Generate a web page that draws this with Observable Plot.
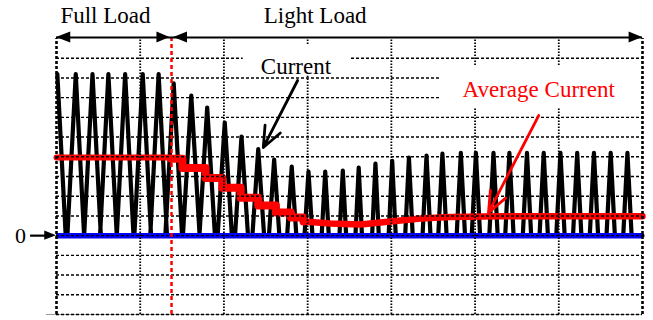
<!DOCTYPE html>
<html><head><meta charset="utf-8">
<script src="https://cdn.jsdelivr.net/npm/d3@7"></script>
<script src="https://cdn.jsdelivr.net/npm/@observablehq/plot@0.6"></script>
<style>body{margin:0;background:#fff}</style>
</head><body><div id="chart"></div>
<script>
// ---- Data, in oscilloscope divisions (x: time div, y: current div) ----
const peakT = [0.01,0.23,0.43,0.62,0.82,1.03,1.22,
  1.40,1.61,1.80,2.01,2.21,2.41,2.60,2.81,3.01,3.21,3.42,3.61,3.81,4.01,4.21,4.42,4.61,4.83,
  5.01,5.22,5.41,5.62,5.82,6.02,6.22,6.42,6.62,6.82];
const peakI = [8.2,8.2,8.2,8.2,8.2,8.2,8.2,
  7.72,7.1,6.5,5.74,5.03,4.39,3.86,3.5,3.25,3.25,3.3,3.45,3.65,3.8,3.96,4.06,4.16,4.2,
  4.2,4.2,4.2,4.2,4.2,4.2,4.2,4.2,4.2,4.2];
const pulseW = [0.2,0.2,0.2,0.2,0.2,0.2,0.2,
  0.2,0.2,0.185,0.17,0.155,0.14,0.125,0.11,0.095,0.085,0.08,0.078,0.08,0.085,0.09,0.095,0.1,0.1,
  0.1,0.1,0.1,0.1,0.1,0.1,0.1,0.1,0.1,0.1];
const avgStepT = [0, 1.37, 1.505, 1.78, 1.98, 2.20, 2.41, 2.62, 2.80, 2.95];
const avgStepI = [3.97, 3.9, 3.43, 2.93, 2.43, 1.92, 1.53, 1.18, 0.92, 0.72];
const avgTailT = [2.95, 3.27, 3.63, 3.99, 4.35, 4.71, 5.3, 7.0];
const avgTailI = [0.72, 0.62, 0.57, 0.72, 0.87, 0.95, 0.98, 0.98];
const loadChangeT = [1.374];
const gridX = [1, 2, 3, 4, 5, 6];
const borderX = [0, 7];
const gridY = [-4,-3,-2,-1,0,1,2,3,4,5,6,7,8,9];
const labels = ["Full Load", "Light Load", "Current", "Average Current", "0"];

// ---- build mark data from the arrays ----
const wave = [];
peakT.forEach((t, k) => {
  const w = pulseW[k];
  if (k > 0) wave.push({t: t - w / 2, i: 0});
  wave.push({t, i: peakI[k]});
  wave.push({t: t + w / 2, i: 0});
});
wave.push({t: 7, i: 0});
const avgFull = avgStepT.slice(0, 2).map((t, k) => ({t, i: avgStepI[k]}));
const avgStep = avgStepT.slice(1).map((t, k) => ({t, i: avgStepI[k + 1]}));
const avgTail = avgTailT.map((t, k) => ({t, i: avgTailI[k]}));

// filled arrow heads (tip, base, level)
const heads = [
  {id: 0, tip: 0, base: 0.17, v: 10.05, h: 0.28},
  {id: 1, tip: 1.355, base: 1.20, v: 10.05, h: 0.28},
  {id: 2, tip: 1.40, base: 1.565, v: 10.05, h: 0.28},
  {id: 3, tip: 7.0, base: 6.84, v: 10.05, h: 0.28},
  {id: 4, tip: 0.0, base: -0.14, v: 0, h: 0.23}
];
const headPts = heads.flatMap(d => [
  {id: d.id, x: d.base, y1: d.v - d.h, y2: d.v + d.h},
  {id: d.id, x: d.tip, y1: d.v, y2: d.v}
]);

const serif = "Liberation Serif, Times New Roman, serif";
const chart = Plot.plot({
  width: 653, height: 320,
  marginLeft: 56, marginRight: 11, marginTop: 38, marginBottom: 6,
  x: {domain: [0, 7], axis: null},
  y: {domain: [-4, 10], axis: null},
  style: {background: "white", fontFamily: serif},
  marks: [
    Plot.ruleY([-4], {x1: -0.12, x2: 7, stroke: "#999", strokeWidth: 1}),
    Plot.line(wave, {x: "t", y: "i", stroke: "black", strokeWidth: 4.2}),
    Plot.line(avgFull, {x: "t", y: "i", stroke: "#ff0000", strokeWidth: 6, curve: "step-after"}),
    Plot.line(avgStep, {x: "t", y: "i", stroke: "#ff0000", strokeWidth: 8, curve: "step-after"}),
    Plot.line(avgTail, {x: "t", y: "i", stroke: "#ff0000", strokeWidth: 6.5}),
    Plot.ruleY([0], {x1: 0, x2: 7, stroke: "#0000ff", strokeWidth: 5.5}),
    Plot.ruleY(gridY, {x1: 0, x2: 7, stroke: "black", strokeWidth: 1.4, strokeDasharray: "3,2"}),
    Plot.ruleX(gridX, {y1: -4, y2: 10, stroke: "black", strokeWidth: 1.8, strokeDasharray: "1.5,1.5"}),
    Plot.ruleX(borderX, {y1: -4, y2: 10, stroke: "black", strokeWidth: 2.6, strokeDasharray: "3,2"}),
    Plot.ruleX(loadChangeT, {y1: -4, y2: 10, stroke: "#ff0000", strokeWidth: 2.5, strokeDasharray: "4,3"}),
    // white label boxes
    Plot.rect([0], {x1: 2.23, x2: 3.52, y1: 8.1, y2: 9.65, fill: "white"}),
    Plot.rect([0], {x1: 4.59, x2: 6.98, y1: 6.45, y2: 8.63, fill: "white"}),
    // top load arrows
    Plot.ruleY([10.05], {x1: 0, x2: 7, stroke: "black", strokeWidth: 2.2}),
    Plot.areaY(headPts, {x: "x", y1: "y1", y2: "y2", z: "id", fill: "black"}),
    Plot.ruleY([0], {x1: -0.31, x2: -0.1, stroke: "black", strokeWidth: 2.2}),
    // annotation arrows
    Plot.arrow([0], {x1: 2.88, y1: 7.87, x2: 2.47, y2: 4.47, stroke: "black", strokeWidth: 2.8, headLength: 12, headAngle: 45}),
    Plot.arrow([0], {x1: 5.76, y1: 6.09, x2: 5.16, y2: 1.17, stroke: "#ff0000", strokeWidth: 2.8, headLength: 12, headAngle: 45}),
    // texts
    Plot.text([labels[0]], {x: 0.585, y: 10.81, text: d => d, lineAnchor: "bottom", fontSize: 23, fill: "black"}),
    Plot.text([labels[1]], {x: 3.09, y: 10.81, text: d => d, lineAnchor: "bottom", fontSize: 23, fill: "black"}),
    Plot.text([labels[2]], {x: 2.86, y: 8.22, text: d => d, lineAnchor: "bottom", fontSize: 23, fill: "black"}),
    Plot.text([labels[3]], {x: 5.76, y: 7.01, text: d => d, lineAnchor: "bottom", fontSize: 23, fill: "#ff0000"}),
    Plot.text([labels[4]], {x: -0.43, y: 0, text: d => d, lineAnchor: "middle", fontSize: 22, fill: "black"})
  ]
});
document.getElementById("chart").append(chart);
</script>
</body></html>
